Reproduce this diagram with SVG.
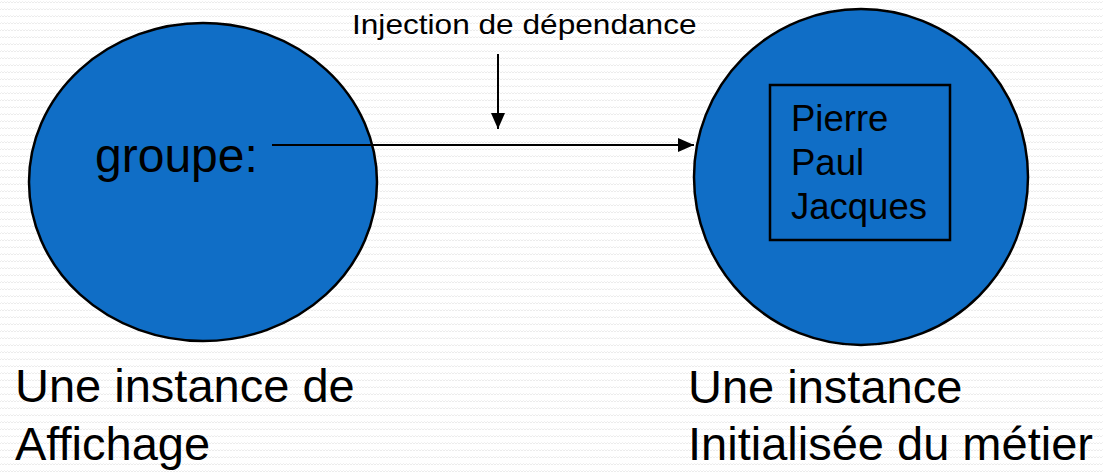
<svg xmlns="http://www.w3.org/2000/svg" width="1103" height="475" viewBox="0 0 1103 475">
  <style>
    text { font-family: "Liberation Sans", Arial, sans-serif; fill: #000; }
    .node { fill: #106EC6; stroke: #000; stroke-width: 2.5; }
    .box { fill: none; stroke: #000; stroke-width: 2.5; }
    .edge { stroke: #000; stroke-width: 2; fill: none; }
    .big { font-size: 47px; }
    .mid { font-size: 36.5px; }
    .small { font-size: 27.5px; }
  </style>
  <defs>
    <pattern id="weave" width="6" height="7" patternUnits="userSpaceOnUse">
      <path d="M0 3 L1.5 1.5 L3 3 L4.5 1.5 L6 3" fill="none" stroke="#ececec" stroke-width="1"/>
    </pattern>
    <marker id="headBig" viewBox="0 0 16 14" refX="16" refY="7" markerWidth="16" markerHeight="14" orient="auto" markerUnits="userSpaceOnUse">
      <path d="M0 0 L16 7 L0 14 Z" fill="#000"/>
    </marker>
  </defs>

  <rect width="1103" height="475" fill="#fff"/>
  <rect width="1103" height="475" fill="url(#weave)"/>

  <!-- display instance -->
  <g id="affichage">
    <ellipse class="node" cx="203" cy="182" rx="174" ry="159"/>
    <text x="95" y="172" style="font-size:48px">groupe:</text>
  </g>

  <!-- business instance holding the list -->
  <g id="metier">
    <ellipse class="node" cx="861" cy="177" rx="167" ry="168"/>
    <rect class="box" x="770" y="85" width="180" height="155"/>
    <text class="mid" x="791" y="131">Pierre</text>
    <text class="mid" x="791" y="175">Paul</text>
    <text class="mid" x="791" y="219">Jacques</text>
  </g>

  <!-- captions -->
  <g id="caption-affichage">
    <text class="big" x="15" y="402">Une instance de</text>
    <text class="big" x="15" y="460">Affichage</text>
  </g>
  <g id="caption-metier">
    <text class="big" x="688" y="403">Une instance</text>
    <text class="big" x="688" y="460">Initialisée du métier</text>
  </g>

  <!-- label is drawn slightly wide -->
  <g id="injection-label">
    <text class="small" transform="matrix(1.15 0 0 1 352 34)">Injection de dépendance</text>
  </g>

  <!-- connectors -->
  <g id="connectors">
    <line class="edge" x1="272" y1="145" x2="694" y2="145" marker-end="url(#headBig)"/>
    <line class="edge" x1="498" y1="54" x2="498" y2="129" marker-end="url(#headBig)"/>
  </g>
</svg>
